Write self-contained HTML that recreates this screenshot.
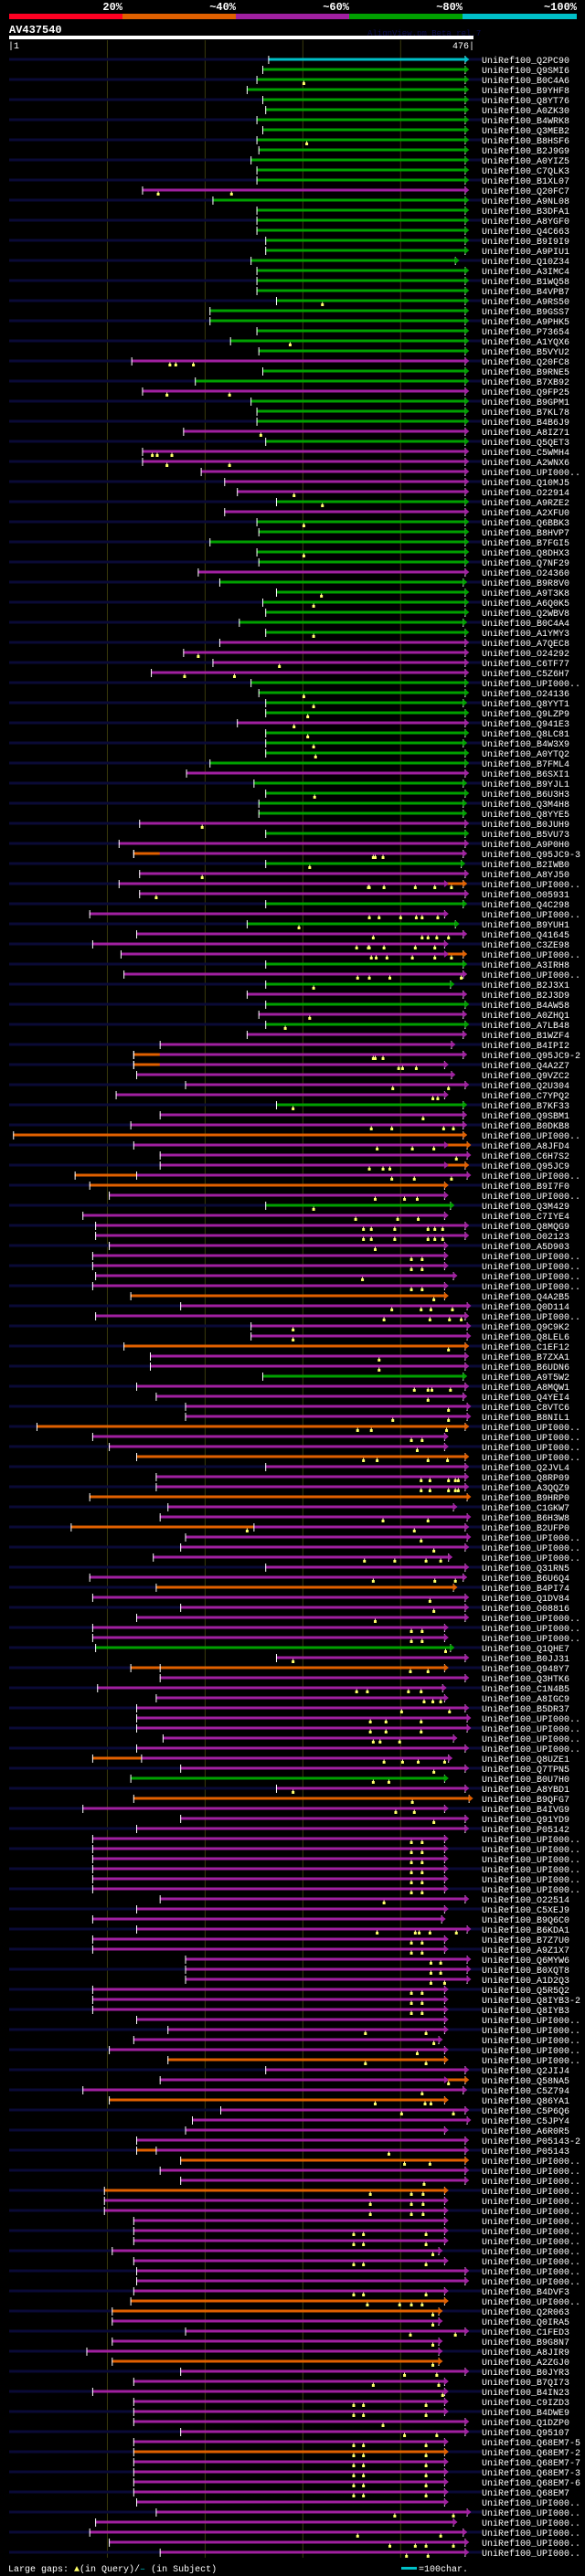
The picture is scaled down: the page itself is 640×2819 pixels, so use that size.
<!DOCTYPE html>
<html><head><meta charset="utf-8"><style>
html,body{margin:0;padding:0;background:#000;}
svg{display:block;}
text{font-family:"Liberation Mono",monospace;}
</style></head><body>
<svg id="chart" width="640" height="2819" viewBox="0 0 640 2819" xmlns="http://www.w3.org/2000/svg">
<rect x="0" y="0" width="640" height="2819" fill="#000"/>
<g>
<rect x="10" y="15" width="124" height="6" fill="#ff0022"/>
<rect x="134" y="15" width="124" height="6" fill="#e06000"/>
<rect x="258" y="15" width="124" height="6" fill="#a020a0"/>
<rect x="382" y="15" width="124" height="6" fill="#00a000"/>
<rect x="506" y="15" width="125" height="6" fill="#00c0c8"/>
<g font-size="12" font-weight="bold" fill="#fff" text-anchor="end">
<text x="134" y="11">20%</text>
<text x="258" y="11">~40%</text>
<text x="382" y="11">~60%</text>
<text x="506" y="11">~80%</text>
<text x="631" y="11">~100%</text>
</g></g>
<text x="10" y="36" font-size="12" font-weight="bold" fill="#fff">AV437540</text>
<text x="402" y="39" font-size="9" fill="#0c0c50">AlignView.pm Beta rel.7</text>
<rect x="10" y="39" width="508" height="4" fill="#fff"/>
<text x="9" y="53" font-size="10" fill="#fff">|1</text>
<text x="519" y="53" font-size="10" fill="#fff" text-anchor="end">476|</text>
<g id="grid"></g>
<g id="rows"></g>
<g>
<text x="9" y="2814" font-size="10" fill="#fff">Large gaps: <tspan fill="#ffff66">▲</tspan>(in Query)/<tspan fill="#00c0c8">–</tspan> (in Subject)</text>
<rect x="439" y="2809" width="17" height="3" fill="#00c0c8"/>
<text x="458" y="2814" font-size="10" fill="#fff">=100char.</text>
</g>
</svg>
<script>
const queryLength = 476;
const gridTicks = [101, 201, 301, 401];
const hitIds = ["Q2PC90","Q9SMI6","B0C4A6","B9YHF8","Q8YT76","A0ZK30","B4WRK8","Q3MEB2","B8HSF6","B2J9G9","A0YIZ5","C7QLK3","B1XL07","Q20FC7","A9NL08","B3DFA1","A8YGF0","Q4C663","B9I9I9","A9PIU1","Q10Z34","A3IMC4","B1WQ58","B4VPB7","A9RS50","B9GSS7","A9PHK5","P73654","A1YQX6","B5VYU2","Q20FC8","B9RNE5","B7XB92","Q9FP25","B9GPM1","B7KL78","B4B6J9","A8IZ71","Q5QET3","C5WMH4","A2WNX6","U","Q10MJ5","O22914","A9RZE2","A2XFU0","Q6BBK3","B8HVP7","B7FGI5","Q8DHX3","Q7NF29","O24360","B9R8V0","A9T3K8","A6Q0K5","Q2WBV8","B0C4A4","A1YMY3","A7QEC8","O24292","C6TF77","C5Z6H7","U","O24136","Q8YYT1","Q9LZP9","Q941E3","Q8LC81","B4W3X9","A0YTQ2","B7FML4","B6SXI1","B9YJL1","B6U3H3","Q3M4H8","Q8YYE5","B0JUH9","B5VU73","A9P0H0","Q95JC9-3","B2IWB0","A8YJ50","U","O05931","Q4C298","U","B9YUH1","Q41645","C3ZE98","U","A3IRH8","U","B2J3X1","B2J3D9","B4AW58","A0ZHQ1","A7LB48","B1WZF4","B4IPI2","Q95JC9-2","Q4A2Z7","Q9VZC2","Q2U304","C7YPQ2","B7KF33","Q9SBM1","B0DKB8","U","A8JFD4","C6H7S2","Q95JC9","U","B9I7F0","U","Q3M429","C7IYE4","Q8MQG9","O02123","A5D903","U","U","U","U","Q4A2B5","Q0D114","U","Q9C9K2","Q8LEL6","C1EF12","B7ZXA1","B6UDN6","A9T5W2","A8MQW1","Q4YEI4","C8VTC6","B8NIL1","U","U","U","U","Q2JVL4","Q8RP09","A3QQZ9","B9HRP0","C1GKW7","B6H3W8","B2UFP0","U","U","U","Q31RN5","B6U6Q4","B4PI74","Q1DV84","O08816","U","U","U","Q1QHE7","B0JJ31","Q948Y7","Q3HTK6","C1N4B5","A8IGC9","B5DR37","U","U","U","U","Q8UZE1","Q7TPN5","B0U7H0","A8YBD1","B9QFG7","B4IVG9","Q91YD9","P05142","U","U","U","U","U","U","O22514","C5XEJ9","B9Q6C0","B6KDA1","B7Z7U0","A9Z1X7","Q6MYW6","B0XQT8","A1D2Q3","Q5R5Q2","Q8IYB3-2","Q8IYB3","U","U","U","U","U","Q2JIJ4","Q58NA5","C5Z794","Q86YA1","C5P6Q6","C5JPY4","A6R0R5","P05143-2","P05143","U","U","U","U","U","U","U","U","U","U","U","U","U","B4DVF3","U","Q2R063","Q0IRA5","C1FED3","B9G8N7","A8JIR9","A2ZGJ0","B0JYR3","B7QI73","B4IN23","C9IZD3","B4DWE9","Q1DZP0","Q95107","Q68EM7-5","Q68EM7-2","Q68EM7-7","Q68EM7-3","Q68EM7-6","Q68EM7","U","U","U","U","U","U"];
const identityClass = ["C","G","G","G","G","G","G","G","G","G","G","G","G","P","G","G","G","G","G","G","G","G","G","G","G","G","G","G","G","G","P","G","G","P","G","G","G","P","G","P","P","P","P","P","G","P","G","G","G","G","G","P","G","G","G","G","G","G","P","P","P","P","G","G","G","G","P","G","G","G","G","P","G","G","G","G","P","G","P","P","G","P","P","P","G","P","G","P","P","P","G","P","G","P","G","P","G","P","P","P","P","P","P","P","G","P","P","O","P","P","P","P","O","P","G","P","P","P","P","P","P","P","P","O","P","P","P","P","O","P","P","G","P","P","P","P","O","P","P","O","P","P","P","O","P","P","P","P","P","P","P","P","O","P","P","P","P","P","G","P","O","P","P","P","P","P","P","P","P","P","P","G","P","O","P","P","P","P","P","P","P","P","P","P","P","P","P","P","P","P","P","P","P","P","P","P","P","P","P","O","P","P","P","O","P","P","P","P","P","O","P","P","O","P","P","P","P","P","P","P","P","P","P","O","O","P","P","P","P","O","P","P","P","P","P","P","P","P","O","P","P","P","P","P","P","P","P","P","P","O","P","O"];
const hitStarts = [266,260,254,244,260,263,254,260,254,256,248,254,254,137,209,254,254,254,263,263,248,254,254,254,274,206,206,254,227,256,126,260,191,137,248,254,254,179,263,137,137,197,221,234,274,221,254,256,206,254,256,194,216,274,260,263,236,263,216,179,209,146,248,256,263,263,234,263,263,263,206,182,251,263,256,256,134,263,113,128,263,134,113,134,263,83,244,131,86,115,263,118,263,244,263,256,263,244,155,128,128,131,181,110,274,155,125,5,128,155,155,131,83,103,263,76,89,89,103,86,86,89,86,125,176,89,248,248,118,145,145,260,131,151,181,181,29,86,103,131,263,151,151,83,163,155,251,181,176,148,263,83,151,86,176,131,86,86,89,274,155,155,91,151,131,131,131,158,131,136,176,125,274,128,76,176,131,86,86,86,86,86,86,155,131,86,131,86,86,181,181,181,86,86,86,131,163,128,103,163,263,155,76,103,217,188,181,131,151,176,155,176,98,98,98,128,128,128,106,128,131,131,128,125,106,106,181,106,80,106,176,128,86,128,128,128,176,128,128,128,128,128,128,131,151,89,83,103,155];
const hitEnds = [467,467,467,467,467,467,467,467,467,467,467,467,467,467,467,467,467,467,467,467,457,467,467,467,467,467,467,467,467,467,467,467,467,467,467,467,467,467,467,467,467,467,467,467,467,467,467,467,467,467,467,467,465,467,467,467,465,467,467,467,467,467,467,467,465,467,467,467,465,467,467,467,465,467,465,465,467,467,467,465,463,467,446,467,465,446,457,465,446,446,465,465,452,465,467,465,467,465,453,465,446,453,467,446,465,465,465,465,446,469,446,469,446,446,452,446,467,467,446,446,446,455,446,446,469,467,469,469,467,467,467,465,467,465,469,469,467,446,446,467,467,467,467,469,455,469,467,469,467,450,467,465,455,467,467,467,446,446,452,467,446,467,444,446,467,469,469,455,467,450,467,446,467,471,446,467,467,446,446,446,446,446,446,467,446,443,469,446,446,469,469,469,446,446,446,446,446,440,446,446,467,446,465,446,467,469,446,467,467,467,467,467,446,446,446,446,446,446,440,446,467,467,446,446,440,440,467,440,440,440,467,446,446,446,446,467,467,446,446,446,446,446,446,446,469,455,465,467,467];
const queryGaps = [[],[],[302],[],[],[],[],[],[305],[],[],[],[],[153,228],[],[],[],[],[],[],[],[],[],[],[321],[],[],[],[288],[],[165,171,189],[],[],[162,226],[],[],[],[258],[],[147,152,167],[162,226],[],[],[292],[321],[],[302],[],[],[302],[],[],[],[320],[312],[],[],[312],[],[194],[277],[180,231],[],[302],[312],[306],[292],[306],[312],[314],[],[],[],[313],[],[],[198],[],[],[373,375,383],[308],[198],[368,369,384,416,436,453],[151],[],[369,379,401,417,423,439],[297],[373,423,429,438,450],[356,368,369,384,416,436],[371,376,387,413,436,453],[],[357,369,390,463],[312],[],[],[308],[283],[],[],[373,375,383],[399,403,417],[],[393,450],[434,439],[291],[424],[371,392,445,455],[],[377,413,435],[458],[369,383,390],[392,415,453],[],[375,405,418],[312],[355,398,419],[363,371,395,429,436,444],[363,371,395,429,436,444],[375],[412,423],[412,423],[362],[412,423],[435],[392,422,432,454],[384,431,451,463],[291],[291],[450],[379],[379],[],[415,429,433,452],[429],[450],[393,450],[357,371,448],[412,423],[418],[363,377,429,449],[],[422,431,450,457,460],[422,431,450,457,460],[],[],[383,429],[244,415],[422],[435],[364,395,427,442],[],[373,436,457],[],[431],[435],[375],[412,423],[412,423],[447],[291],[411,429],[],[356,367,409,422],[425,434,442],[402,451],[370,386,422],[370,386,422],[373,380,400],[],[384,403,419,446],[435],[373,389],[291],[413],[396,415],[435],[],[412,423],[412,423],[412,423],[412,423],[412,423],[412,423],[384],[],[],[377,416,420,431,458],[412,423],[412,423],[432,442],[432,442],[432,446],[412,423],[412,423],[412,423],[],[365,427],[435],[418],[365,427],[],[450],[423],[375,426,432],[402,455],[],[],[],[389],[405,431],[],[425],[370,412,424],[370,412,424],[370,412,424],[],[353,363,427],[353,363,427],[434],[353,363,427],[],[],[353,363,427],[367,400,412,423],[434],[434],[411,457],[434],[],[434],[405,438],[373,440],[444],[353,363,427],[353,363,427],[383],[405,438],[353,363,427],[353,363,427],[353,363,427],[353,363,427],[353,363,427],[353,363,427],[],[395,455],[],[357,442],[390,416,427,455],[407,429]];
// lower-identity prefix segments: [row, from, to]; higher-identity suffix segments: [row, from, to]
const prefixRows = [80,100,101,112,147,161,170,209];
const prefixFrom = [128,128,128,68,64,125,86,131];
const prefixTo = [155,155,155,131,251,155,136,151];
const suffixRows = [83,90,109,111,202];
const suffixFrom = [446,446,446,446,446];
const suffixTo = [465,465,469,467,467];

const COLORS = {C:"#00c0c8", G:"#00a000", P:"#a020a0", O:"#e06000"};
const NS = "http://www.w3.org/2000/svg";
const X0 = 10, XW = 508;
function xScale(pos){ return X0 + (pos - 1) * XW / (queryLength - 1); }
function yScale(i){ return 65 + 11 * i; }
function mk(tag, attrs, parent){
  const el = document.createElementNS(NS, tag);
  for (const k in attrs) el.setAttribute(k, attrs[k]);
  parent.appendChild(el);
  return el;
}
const grid = document.getElementById('grid');
const lastY = yScale(hitIds.length - 1) + 6;
gridTicks.forEach(t => {
  const l = mk('rect', {x: xScale(t), y: 44, width: 1, height: lastY - 44, fill: '#3a3a0c'}, grid);
  
  
});
const rows = document.getElementById('rows');
hitIds.forEach((id, i) => {
  const y = yScale(i);
  const g = mk('g', {}, rows);
  
  
  if (i % 2 === 0) {
    const n = mk('rect', {x: 10, y: y - 1.5, width: 517, height: 3, fill: '#0a0a36'}, g);
    
    
  }
  const col = COLORS[identityClass[i]];
  const xs = xScale(hitStarts[i]), xe = xScale(hitEnds[i]);
  const bar = mk('rect', {x: xs, y: y - 1.5, width: xe - xs, height: 3, fill: col}, g);
  
  
  const pi = prefixRows.indexOf(i + 1);
  if (pi >= 0) {
    const a = xScale(prefixFrom[pi]), b = xScale(prefixTo[pi]);
    const p = mk('rect', {x: a, y: y - 1.5, width: b - a, height: 3, fill: COLORS.O}, g);
    
    
    const t = mk('rect', {x: a, y: y - 4, width: 1, height: 9, fill: '#fff'}, g);
    
    
  }
  const si = suffixRows.indexOf(i + 1);
  let arrowEnd = xe, arrowCol = col;
  if (si >= 0) {
    const a = xScale(suffixFrom[si]), b = xScale(suffixTo[si]);
    const s = mk('rect', {x: a, y: y - 1.5, width: b - a, height: 3, fill: COLORS.O}, g);
    
    
    const ar = mk('polygon', {points: `${a},${y-4} ${a+5},${y} ${a},${y+4}`, fill: col}, g);
    
    
    arrowEnd = b; arrowCol = COLORS.O;
  }
  const st = mk('rect', {x: xs, y: y - 4, width: 1, height: 9, fill: '#fff'}, g);
  
  
  const et = mk('rect', {x: arrowEnd, y: y - 4, width: 1, height: 9, fill: '#fff'}, g);
  
  
  const arrow = mk('polygon', {points: `${arrowEnd},${y-4} ${arrowEnd+5},${y} ${arrowEnd},${y+4}`, fill: arrowCol}, g);
  
  
  queryGaps[i].forEach(gp => {
    const gx = xScale(gp);
    const m = mk('rect', {x: gx - 1, y: y + 3, width: 3, height: 3, fill: '#ffff66'}, g);
    
    
    const s2 = mk('rect', {x: gx, y: y + 1.5, width: 1, height: 2, fill: '#ffffaa'}, g);
    
    
  });
  const label = mk('text', {x: 527, y: y + 4, 'font-size': 10, fill: '#fff'}, g);
  
  
  label.textContent = 'UniRef100_' + (id === 'U' ? 'UPI000..' : id);
});
</script>
</body></html>
